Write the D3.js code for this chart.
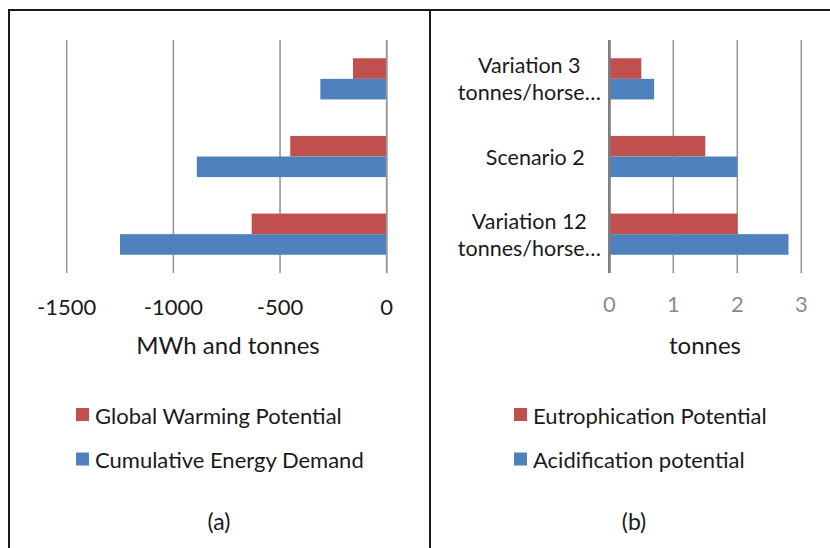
<!DOCTYPE html>
<html>
<head>
<meta charset="utf-8">
<script src="https://cdnjs.cloudflare.com/ajax/libs/d3/7.8.5/d3.min.js"></script>
<style>
  body { margin: 0; background: #fff; }
  svg { display: block; font-family: Lato, "Open Sans", sans-serif; }
</style>
</head>
<body>
<div id="renderDiv"></div>
<script>
// categories, bottom to top as in the source chart
const categories = ["Variation 12\ntonnes/horse\u2026", "Scenario 2", "Variation 3\ntonnes/horse\u2026"];

// panel (a): MWh and tonnes
const gwpValues = [-633, -452, -158];
const cedValues = [-1250, -890, -311];
const leftTicks = [-1500, -1000, -500, 0];

// panel (b): tonnes
const eutroValues = [2.0, 1.5, 0.5];
const acidValues = [2.8, 2.0, 0.7];
const rightTicks = [0, 1, 2, 3];

const RED = "#c0504d", BLUE = "#4f81bd";

const svg = d3.select("#renderDiv").append("svg")
    .attr("width", 830).attr("height", 548);

// panel frames
svg.append("rect").attr("x", 9).attr("y", 10).attr("width", 421).attr("height", 560)
    .attr("fill", "none").attr("stroke", "#1a1a1a").attr("stroke-width", 2);
svg.append("rect").attr("x", 430).attr("y", 10).attr("width", 410).attr("height", 560)
    .attr("fill", "none").attr("stroke", "#1a1a1a").attr("stroke-width", 2);

const plotTop = 40, plotBottom = 273;
const yScale = d3.scaleBand().domain(d3.range(categories.length).reverse())
    .range([plotTop, plotBottom]).paddingInner(0.47).paddingOuter(0.235);

function drawPanel(opt) {
    const x = d3.scaleLinear().domain(opt.domain).range(opt.range);
    const g = svg.append("g");

    // vertical gridlines
    g.selectAll("line.grid").data(opt.ticks).enter().append("line")
        .attr("class", "grid")
        .attr("x1", d => x(d)).attr("x2", d => x(d))
        .attr("y1", plotTop).attr("y2", plotBottom)
        .attr("stroke", d => (opt.axisAt === d ? "#7f7f7f" : "#989898"))
        .attr("stroke-width", d => (opt.axisAt === d ? 2.5 : 1.6));

    const bh = yScale.bandwidth() / 2;
    const series = [{ vals: opt.top, color: RED, off: 0 }, { vals: opt.bottom, color: BLUE, off: bh }];
    series.forEach(s => {
        g.selectAll(null).data(s.vals).enter().append("rect")
            .attr("x", d => Math.min(x(0), x(d)))
            .attr("width", d => Math.abs(x(d) - x(0)))
            .attr("y", (d, i) => yScale(i) + s.off)
            .attr("height", bh)
            .attr("fill", s.color);
    });

    // redraw the zero line above the bars
    g.append("line")
        .attr("x1", x(0)).attr("x2", x(0)).attr("y1", plotTop).attr("y2", plotBottom)
        .attr("stroke", opt.axisAt === 0 ? "#7f7f7f" : "#989898")
        .attr("stroke-width", opt.axisAt === 0 ? 2.5 : 1.6);

    // tick labels
    g.selectAll("text.tick").data(opt.ticks).enter().append("text")
        .attr("x", d => x(d)).attr("y", opt.tickY)
        .attr("text-anchor", "middle").attr("dominant-baseline", "central")
        .attr("font-size", 22).attr("fill", opt.tickColor)
        .text(d => d);

    // axis title
    g.append("text").attr("x", opt.titleX).attr("y", 344)
        .attr("text-anchor", "middle").attr("dominant-baseline", "central")
        .attr("font-size", 24).attr("fill", "#1a1a1a").text(opt.title);

    // legend
    opt.legend.forEach((l, i) => {
        const ly = 415 + i * 44.5;
        g.append("rect").attr("x", opt.legendX).attr("y", ly - 7)
            .attr("width", 13).attr("height", 13).attr("fill", l.color);
        g.append("text").attr("x", opt.legendX + 19).attr("y", ly)
            .attr("dominant-baseline", "central").attr("font-size", 22)
            .attr("fill", "#1a1a1a").text(l.name);
    });

    // panel caption
    g.append("text").attr("x", opt.captionX).attr("y", 521)
        .attr("text-anchor", "middle").attr("dominant-baseline", "central")
        .attr("font-size", 23).attr("fill", "#1a1a1a").text(opt.caption);

    return x;
}

drawPanel({
    domain: [-1500, 0], range: [66.7, 386.7], ticks: leftTicks,
    top: gwpValues, bottom: cedValues, axisAt: null,
    tickY: 306, tickColor: "#1a1a1a",
    title: "MWh and tonnes", titleX: 228,
    legendX: 76, legend: [{ name: "Global Warming Potential", color: RED },
                          { name: "Cumulative Energy Demand", color: BLUE }],
    caption: "(a)", captionX: 219
});

const xr = drawPanel({
    domain: [0, 3], range: [609.3, 801.3], ticks: rightTicks,
    top: eutroValues, bottom: acidValues, axisAt: 0,
    tickY: 303, tickColor: "#8c8c8c",
    title: "tonnes", titleX: 705,
    legendX: 514, legend: [{ name: "Eutrophication Potential", color: RED },
                           { name: "Acidification potential", color: BLUE }],
    caption: "(b)", captionX: 634
});

// category labels for panel (b)
categories.forEach((c, i) => {
    const lines = c.split("\n");
    const cy = yScale(i) + yScale.bandwidth() / 2;
    const lh = 27;
    const cx = lines.length > 1 ? xr(0) - 80 : xr(0) - 74;
    const t = svg.append("text").attr("font-size", 21.5).attr("fill", "#1a1a1a")
        .attr("text-anchor", "middle");
    lines.forEach((ln, k) => {
        t.append("tspan").attr("x", cx)
            .attr("y", cy + (k - (lines.length - 1) / 2) * lh)
            .attr("dominant-baseline", "central")
            .text(ln);
    });
});
</script>
</body>
</html>
